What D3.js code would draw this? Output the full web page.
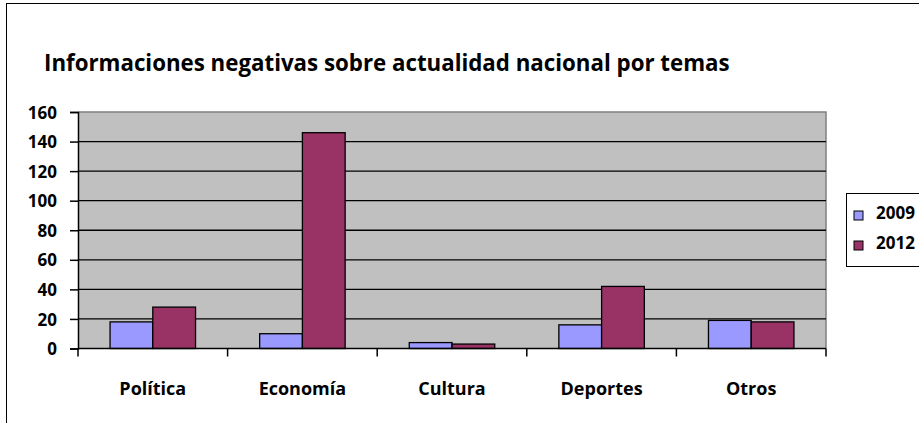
<!DOCTYPE html>
<html>
<head>
<meta charset="utf-8">
<script src="https://cdn.jsdelivr.net/npm/d3@7"></script>
<style>
  body { margin: 0; background: #fff; }
  text { font-family: "Open Sans", "Noto Sans", sans-serif; font-weight: bold; fill: #000; }
</style>
</head>
<body>
<div id="viz"></div>
<script>
const width = 919;
const height = 423;

// data
const categories = ["Política", "Economía", "Cultura", "Deportes", "Otros"];
const seriesNames = ["2009", "2012"];
const values2009 = [18, 10, 4, 16, 19];
const values2012 = [28, 146, 3, 42, 18];
const yTicks = [0, 20, 40, 60, 80, 100, 120, 140, 160];
const colors = ["#9999FF", "#993366"];

const plot = { left: 78, right: 826, top: 112, bottom: 348.5 };

const svg = d3.select('#viz')
    .append("svg")
    .attr('width', width)
    .attr('height', height);

// outer chart border (runs off the right and bottom edges)
svg.append("rect")
    .attr("x", 6.5).attr("y", 3.5)
    .attr("width", 960).attr("height", 440)
    .attr("fill", "#fff")
    .attr("stroke", "#000")
    .attr("stroke-width", 1);

// title, fitted to the width it has in the picture
const title = svg.append("text")
    .attr("x", 44)
    .attr("y", 71)
    .attr("font-size", 20)
    .text("Informaciones negativas sobre actualidad nacional por temas");
const tw = title.node().getComputedTextLength();
title.attr("font-size", 20 * 686 / tw);

const xScale = d3.scaleBand()
    .domain(categories)
    .range([plot.left, plot.right])
    .padding(0);

const xInner = d3.scaleBand()
    .domain(seriesNames)
    .range([0, xScale.bandwidth()])
    .paddingInner(0)
    .paddingOuter(0.75);

const yScale = d3.scaleLinear()
    .domain([0, 160])
    .range([plot.bottom, plot.top]);

// plot area
svg.append("rect")
    .attr("x", plot.left).attr("y", plot.top)
    .attr("width", plot.right - plot.left)
    .attr("height", plot.bottom - plot.top)
    .attr("fill", "#C0C0C0");

svg.append("path")
    .attr("d", `M${plot.left},${plot.top}H${plot.right}V${plot.bottom}`)
    .attr("fill", "none")
    .attr("stroke", "#808080")
    .attr("stroke-width", 1.5);

// gridlines
svg.append("g")
    .selectAll("line")
    .data(yTicks.filter(d => d > 0 && d < 160))
    .enter()
    .append("line")
    .attr("x1", plot.left).attr("x2", plot.right)
    .attr("y1", d => yScale(d)).attr("y2", d => yScale(d))
    .attr("stroke", "#000")
    .attr("stroke-width", 1.3);

// bars
const rows = categories.map((c, i) => ({ cat: c, vals: [values2009[i], values2012[i]] }));

const groups = svg.append("g")
    .selectAll("g")
    .data(rows)
    .enter()
    .append("g")
    .attr("transform", d => `translate(${xScale(d.cat)},0)`);

groups.selectAll("rect")
    .data(d => d.vals.map((v, j) => ({ key: seriesNames[j], value: v, j })))
    .enter()
    .append("rect")
    .attr("x", d => xInner(d.key))
    .attr("y", d => yScale(d.value))
    .attr("width", xInner.bandwidth())
    .attr("height", d => plot.bottom - yScale(d.value))
    .attr("fill", d => colors[d.j])
    .attr("stroke", "#000")
    .attr("stroke-width", 1.3);

// y axis
const yAxis = svg.append("g")
    .attr("transform", `translate(${plot.left},0)`)
    .call(d3.axisLeft(yScale).tickValues(yTicks).tickSize(8).tickPadding(13));
yAxis.select(".domain").attr("stroke", "#000").attr("stroke-width", 1.5);
yAxis.selectAll(".tick line").attr("stroke", "#000").attr("stroke-width", 1.5);
yAxis.selectAll(".tick text")
    .attr("font-size", 17)
    .attr("font-family", null)
    .attr("dy", "0.36em");

// x axis: ticks at category boundaries
const xAxis = svg.append("g")
    .attr("transform", `translate(0,${plot.bottom})`);
xAxis.append("line")
    .attr("x1", plot.left).attr("x2", plot.right)
    .attr("stroke", "#000").attr("stroke-width", 1.5);
const bounds = categories.map(c => xScale(c)).concat([plot.right]);
xAxis.selectAll("line.tk")
    .data(bounds)
    .enter()
    .append("line")
    .attr("class", "tk")
    .attr("x1", d => d).attr("x2", d => d)
    .attr("y1", 0).attr("y2", 8)
    .attr("stroke", "#000").attr("stroke-width", 1.5);
xAxis.selectAll("text")
    .data(categories)
    .enter()
    .append("text")
    .attr("x", d => xScale(d) + xScale.bandwidth() / 2)
    .attr("y", 46.5)
    .attr("text-anchor", "middle")
    .attr("font-size", 18)
    .text(d => d);

// legend (box runs off the right edge)
const legend = svg.append("g");
legend.append("rect")
    .attr("x", 846.5).attr("y", 193.5)
    .attr("width", 120).attr("height", 73)
    .attr("fill", "#fff")
    .attr("stroke", "#000");
const items = legend.selectAll("g")
    .data(seriesNames)
    .enter()
    .append("g")
    .attr("transform", (d, i) => `translate(854,${211 + i * 30})`);
items.append("rect")
    .attr("width", 9).attr("height", 9)
    .attr("fill", (d, i) => colors[i])
    .attr("stroke", "#000");
items.append("text")
    .attr("x", 22)
    .attr("y", 8)
    .attr("font-size", 17)
    .text(d => d);
</script>
</body>
</html>
